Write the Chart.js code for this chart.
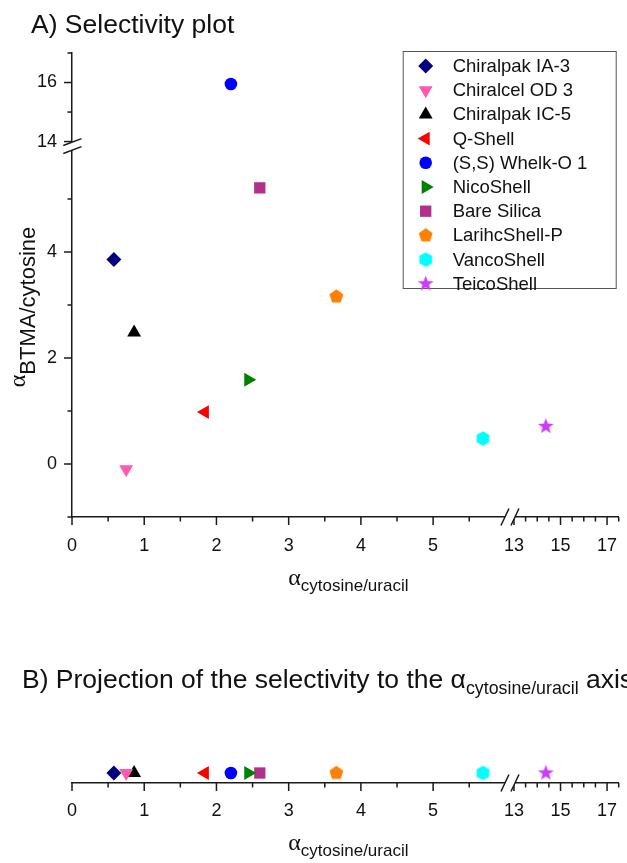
<!DOCTYPE html>
<html>
<head>
<meta charset="utf-8">
<script src="https://cdn.jsdelivr.net/npm/chart.js@4.4.1/dist/chart.umd.min.js"></script>
<style>
  html, body { margin: 0; padding: 0; background: #fff; }
  body { width: 627px; height: 863px; position: relative; overflow: hidden; font-family: 'Liberation Sans', Arial, sans-serif; }
  .panel-title { position: absolute; white-space: nowrap; font-size: 26.5px; line-height: 30px; color: #111; }
  .panel-title sub { font-size: 17.8px; vertical-align: baseline; position: relative; top: 6px; }
  #chartA { position: absolute; left: 0; top: 0; }
  #chartB { position: absolute; left: 0; top: 600px; }
</style>
</head>
<body>
<canvas id="chartA" width="627" height="600"></canvas>
<canvas id="chartB" width="627" height="263"></canvas>
<div class="panel-title" style="left:31px; top:9px">A) Selectivity plot</div>
<div class="panel-title" style="left:22px; top:664px">B) Projection of the selectivity to the α<sub>cytosine/uracil</sub> axis</div>
<script>
// --- data ---
const seriesNames = ['Chiralpak IA-3', 'Chiralcel OD 3', 'Chiralpak IC-5', 'Q-Shell', '(S,S) Whelk-O 1',
    'NicoShell', 'Bare Silica', 'LarihcShell-P', 'VancoShell', 'TeicoShell'];
const alphaCytosineUracil = [0.58, 0.75, 0.86, 1.84, 2.20, 2.44, 2.60, 3.66, 5.69, 14.37];
const alphaBtmaCytosine = [3.86, -0.10, 2.48, 0.98, 15.95, 1.59, 5.21, 3.16, 0.48, 0.71];
const projectionLevel = 0;   // panel B: every point sits on one row

// axis segments (broken axes) and their ticks
const xLowerRange = [0, 6.05];
const xUpperRange = [12.785, 17.5];
const yLowerRange = [-1, 6];
const yUpperRange = [13.85, 17];
const xLowerTicks = [0, 1, 2, 3, 4, 5];
const xLowerMinor = [0.5, 1.5, 2.5, 3.5, 4.5, 5.5];
const xUpperTicks = [13, 15, 17];
const xUpperMinor = [13.5, 14, 14.5, 15.5, 16, 16.5, 17.5];
const yLowerTicks = [0, 2, 4];
const yLowerMinor = [-1, 1, 3, 5];
const yUpperTicks = [14, 16];
const yUpperMinor = [15, 17];

// --- styling ---
const seriesColors = ['#000080', '#ff5aae', '#000000', '#ff0000', '#0000ff',
    '#008000', '#b0308c', '#ff8000', '#00ffff', '#cc3cff'];
const markerShapes = ['rectRot', 'triangle', 'triangle', 'triangle', 'circle',
    'triangle', 'rect', 'pentagon', 'hexagon', 'star'];
const markerRotations = [0, 180, 0, -90, 0, 90, 0, 0, 0, 0];
const markerRadii = [7.5, 8, 8, 8, 6.3, 8, 8, 7.3, 7.3, 8.3];

const axisColor = '#1a1a1a';
const tickFont = { family: 'Liberation Sans', size: 18 };
Chart.defaults.font.family = 'Liberation Sans';

// Chart.js has no filled pentagon / hexagon / star, so make small canvases for them
function shapeCanvas(kind, color, r) {
    const c = document.createElement('canvas');
    c.width = c.height = Math.ceil(2 * r + 2);
    const g = c.getContext('2d');
    g.fillStyle = color;
    g.translate(c.width / 2, c.height / 2);
    g.beginPath();
    const n = kind === 'pentagon' ? 5 : kind === 'hexagon' ? 6 : 10;
    for (let i = 0; i < n; i++) {
        const a = -Math.PI / 2 + i * 2 * Math.PI / n;
        const rr = kind === 'star' && i % 2 ? r * 0.42 : r;
        const px = Math.cos(a) * rr, py = Math.sin(a) * rr;
        if (i === 0) g.moveTo(px, py); else g.lineTo(px, py);
    }
    g.closePath();
    g.fill();
    return c;
}

const pointStyles = markerShapes.map((s, i) =>
    ['pentagon', 'hexagon', 'star'].includes(s) ? shapeCanvas(s, seriesColors[i], markerRadii[i]) : s);

// tick marks are drawn by the plugin below (major 8px, minor 4.5px)
const tickMarks = {
    xLow: [xLowerTicks, xLowerMinor], xHigh: [xUpperTicks, xUpperMinor],
    yLow: [yLowerTicks, yLowerMinor], yHigh: [yUpperTicks, yUpperMinor]
};

function segmentAxis(range, major, minor, labelGap, extra) {
    const all = major.concat(minor).sort((a, b) => a - b);
    return Object.assign({
        type: 'linear',
        min: range[0],
        max: range[1],
        afterBuildTicks: s => { s.ticks = all.map(v => ({ value: v })); },
        ticks: {
            autoSkip: false, maxRotation: 0, minRotation: 0,
            font: tickFont, color: '#111', padding: 7,
            callback: v => major.includes(v) ? String(v) : ''
        },
        grid: {
            drawOnChartArea: false, drawTicks: true, tickLength: labelGap,
            tickColor: 'rgba(0,0,0,0)'
        },
        border: { display: true, color: axisColor, width: 1.5 }
    }, extra);
}

function seriesDatasets(yOf, yAxisOf) {
    return seriesNames.map((name, i) => ({
        label: name,
        data: [{ x: alphaCytosineUracil[i], y: yOf(i) }],
        xAxisID: alphaCytosineUracil[i] > xLowerRange[1] ? 'xHigh' : 'xLow',
        yAxisID: yAxisOf(i),
        showLine: false,
        pointStyle: pointStyles[i],
        pointRotation: markerRotations[i],
        pointRadius: markerRadii[i],
        pointBackgroundColor: seriesColors[i],
        pointBorderColor: seriesColors[i],
        pointBorderWidth: 0
    }));
}

// tick marks + the "//" break marks
const breakPlugin = {
    id: 'axisBreaks',
    afterDraw(chart) {
        const ctx = chart.ctx, area = chart.chartArea;
        ctx.save();
        ctx.strokeStyle = axisColor;
        ctx.lineWidth = 1.5;
        Object.keys(tickMarks).forEach(id => {
            const s = chart.scales[id];
            if (!s || !s.options.display) return;
            tickMarks[id].forEach((vals, k) => {
                const len = k === 0 ? 8 : 4.5;
                vals.forEach(v => {
                    const p = s.getPixelForValue(v);
                    ctx.beginPath();
                    if (s.isHorizontal()) { ctx.moveTo(p, area.bottom); ctx.lineTo(p, area.bottom + len); }
                    else { ctx.moveTo(area.left - len, p); ctx.lineTo(area.left, p); }
                    ctx.stroke();
                });
            });
        });
        const drawBreak = (pts) => {
            ctx.fillStyle = '#fff';
            ctx.beginPath();
            ctx.moveTo(pts[0][0], pts[0][1]); ctx.lineTo(pts[1][0], pts[1][1]);
            ctx.lineTo(pts[3][0], pts[3][1]); ctx.lineTo(pts[2][0], pts[2][1]);
            ctx.closePath(); ctx.fill();
            ctx.beginPath();
            ctx.moveTo(pts[0][0], pts[0][1]); ctx.lineTo(pts[1][0], pts[1][1]);
            ctx.moveTo(pts[2][0], pts[2][1]); ctx.lineTo(pts[3][0], pts[3][1]);
            ctx.stroke();
        };
        const bx = chart.scales.xLow.right, by = area.bottom;
        drawBreak([[bx - 8, by + 8.5], [bx, by - 8.5], [bx + 2, by + 8.5], [bx + 10, by - 8.5]]);
        if (chart.scales.yHigh) {
            const vx = area.left, vy = chart.scales.yHigh.bottom;
            drawBreak([[vx - 8.7, vy - 0.5], [vx + 9.5, vy - 7.4], [vx - 8.7, vy + 7.5], [vx + 9.5, vy + 0.6]]);
        }
        ctx.restore();
    }
};

function drawAlpha(ctx, x, y, sub, subFont, drop) {
    ctx.font = "24px 'Liberation Serif'";
    ctx.fillText('α', x, y);
    const w = ctx.measureText('α').width;
    ctx.font = subFont;
    ctx.fillText(sub, x + w, y + drop);
}
function alphaWidth(ctx, sub, subFont) {
    ctx.font = "24px 'Liberation Serif'";
    const w = ctx.measureText('α').width;
    ctx.font = subFont;
    return w + ctx.measureText(sub).width;
}

const axisTitlePlugin = {
    id: 'axisTitles',
    afterDraw(chart, args, opts) {
        const ctx = chart.ctx, area = chart.chartArea;
        ctx.save();
        ctx.fillStyle = '#111';
        ctx.textBaseline = 'alphabetic';
        ctx.textAlign = 'left';
        const xf = "17px 'Liberation Sans'";
        const xw = alphaWidth(ctx, 'cytosine/uracil', xf);
        drawAlpha(ctx, (area.left + area.right) / 2 + 3 - xw / 2, area.bottom + opts.xGap, 'cytosine/uracil', xf, 6);
        if (opts.yTitle) {
            const yf = "22px 'Liberation Sans'";
            const yw = alphaWidth(ctx, 'BTMA/cytosine', yf);
            ctx.translate(25, area.top + 254);
            ctx.rotate(-Math.PI / 2);
            drawAlpha(ctx, -yw / 2, 0, 'BTMA/cytosine', yf, 10);
        }
        ctx.restore();
    }
};

const boxLegendPlugin = {
    id: 'boxLegend',
    afterDatasetsDraw(chart) {
        const ctx = chart.ctx, area = chart.chartArea;
        const left = area.right - 216, top = area.top - 2, w = 213, h = 237;
        ctx.save();
        ctx.fillStyle = '#fff';
        ctx.fillRect(left, top, w, h);
        ctx.strokeStyle = '#555';
        ctx.lineWidth = 1;
        ctx.strokeRect(left + 0.5, top + 0.5, w, h);
        chart.data.datasets.forEach((ds, i) => {
            const y = top + 15 + i * 24.2;
            ctx.fillStyle = ds.pointBackgroundColor;
            Chart.helpers.drawPoint(ctx, {
                pointStyle: ds.pointStyle, rotation: ds.pointRotation,
                radius: ds.pointRadius, borderWidth: 0
            }, left + 23, y);
            ctx.fillStyle = '#111';
            ctx.font = "18.5px 'Liberation Sans'";
            ctx.textBaseline = 'middle';
            ctx.fillText(ds.label, left + 50, y + 1);
        });
        ctx.restore();
    }
};

new Chart(document.getElementById('chartA'), {
    type: 'scatter',
    data: {
        datasets: seriesDatasets(i => alphaBtmaCytosine[i],
            i => alphaBtmaCytosine[i] > yLowerRange[1] ? 'yHigh' : 'yLow')
    },
    plugins: [breakPlugin, axisTitlePlugin, boxLegendPlugin],
    options: {
        responsive: false,
        animation: false,
        events: [],
        devicePixelRatio: 1,
        layout: { padding: { left: 0, right: 7, top: 53, bottom: 0 } },
        scales: {
            yLow: segmentAxis(yLowerRange, yLowerTicks, yLowerMinor, 8,
                { position: 'left', stack: 'y', stackWeight: 371, weight: 0, afterFit: s => { s.width = 72; } }),
            yHigh: segmentAxis(yUpperRange, yUpperTicks, yUpperMinor, 8,
                { position: 'left', stack: 'y', stackWeight: 93, weight: 1, afterFit: s => { s.width = 72; } }),
            xLow: segmentAxis(xLowerRange, xLowerTicks, xLowerMinor, 11,
                { position: 'bottom', stack: 'x', stackWeight: 438, weight: 0, afterFit: s => { s.height = 83; } }),
            xHigh: segmentAxis(xUpperRange, xUpperTicks, xUpperMinor, 11,
                { position: 'bottom', stack: 'x', stackWeight: 110, weight: 1, afterFit: s => { s.height = 83; } })
        },
        plugins: {
            legend: { display: false },
            tooltip: { enabled: false },
            axisTitles: { xGap: 68, yTitle: true }
        }
    }
});

new Chart(document.getElementById('chartB'), {
    type: 'scatter',
    data: { datasets: seriesDatasets(() => projectionLevel, () => 'yRow') },
    plugins: [breakPlugin, axisTitlePlugin],
    options: {
        responsive: false,
        animation: false,
        events: [],
        devicePixelRatio: 1,
        layout: { padding: { left: 72, right: 7, top: 120, bottom: 0 } },
        scales: {
            yRow: { type: 'linear', display: false, min: -1, max: 5.3 },
            xLow: segmentAxis(xLowerRange, xLowerTicks, xLowerMinor, 10,
                { position: 'bottom', stack: 'x', stackWeight: 438, weight: 0, afterFit: s => { s.height = 80; } }),
            xHigh: segmentAxis(xUpperRange, xUpperTicks, xUpperMinor, 10,
                { position: 'bottom', stack: 'x', stackWeight: 110, weight: 1, afterFit: s => { s.height = 80; } })
        },
        plugins: {
            legend: { display: false },
            tooltip: { enabled: false },
            axisTitles: { xGap: 67, yTitle: false }
        }
    }
});
</script>
</body>
</html>
